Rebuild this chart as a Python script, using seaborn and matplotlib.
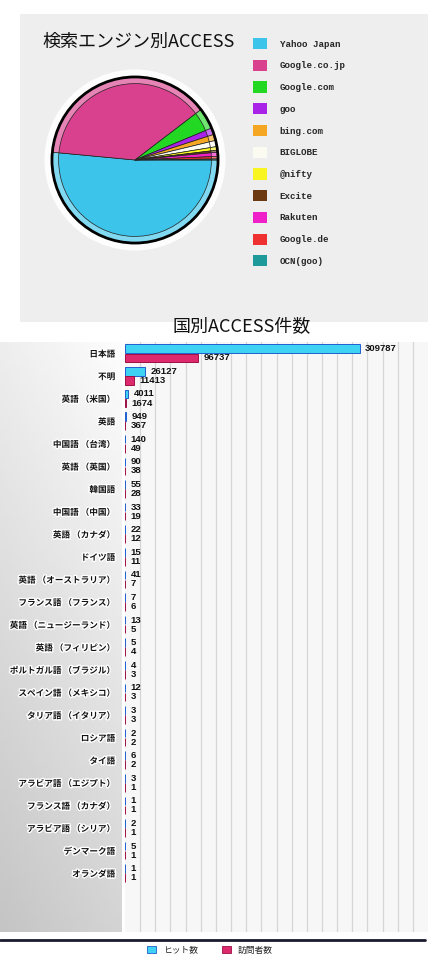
import matplotlib
matplotlib.use("Agg")
import matplotlib.pyplot as plt
import matplotlib.patheffects as pe
from matplotlib.patches import Patch, Rectangle, Circle
from matplotlib import colors as mcolors
import numpy as np
import pandas as pd
import seaborn as sns

# search engine shares (%)
engines = ["Yahoo Japan", "Google.co.jp", "Google.com", "goo", "bing.com", "BIGLOBE",
           "@nifty", "Excite", "Rakuten", "Google.de", "OCN(goo)"]
engine_share = [51.6, 38.2, 4.1, 1.3, 1.2, 1.2, 0.7, 0.4, 0.8, 0.5, 0.2]
engine_colors = ["#3cc4ea", "#d9418f", "#22d822", "#a822e8", "#f5a623", "#fbfbf2",
                 "#f8f520", "#6b3a12", "#f020c8", "#ee3030", "#1f9a9a"]

# access counts per language / country
languages = ["日本語", "不明", "英語 （米国）", "英語", "中国語 （台湾）", "英語 （英国）", "韓国語",
             "中国語 （中国）", "英語 （カナダ）", "ドイツ語", "英語 （オーストラリア）",
             "フランス語 （フランス）", "英語 （ニュージーランド）", "英語 （フィリピン）",
             "ポルトガル語 （ブラジル）", "スペイン語 （メキシコ）", "タリア語 （イタリア）",
             "ロシア語", "タイ語", "アラビア語 （エジプト）", "フランス語 （カナダ）",
             "アラビア語 （シリア）", "デンマーク語", "オランダ語"]
hits = [309787, 26127, 4011, 949, 140, 90, 55, 33, 22, 15, 41, 7, 13, 5, 4, 12, 3, 2, 6, 3, 1, 2, 5, 1]
visitors = [96737, 11413, 1674, 367, 49, 38, 28, 19, 12, 11, 7, 6, 5, 4, 3, 3, 3, 2, 2, 1, 1, 1, 1, 1]
series = ["ヒット数", "訪問者数"]
bar_colors = ["#3fd2f2", "#dc2a6c"]
bar_edges = ["#1f5fd0", "#9e1045"]

sns.set_theme(style="white")
plt.rcParams['font.family'] = ['Noto Sans CJK JP', 'DejaVu Sans']

W, H = 430, 957
fig = plt.figure(figsize=(W / 100, H / 100), dpi=100)
fig.patch.set_facecolor("white")


def fx(px):
    return px / W


def fy(py):
    return 1 - py / H


# ---- top panel: pie ----
fig.patches.append(Rectangle((fx(20), fy(322)), fx(408), 308 / H, transform=fig.transFigure,
                             facecolor="#eeeeee", edgecolor="none", zorder=-5))
fig.text(fx(42), fy(42), "検索エンジン別ACCESS", fontsize=13, va="center", ha="left", color="#111111")

R = 95.5
ax_pie = fig.add_axes([fx(135 - R), fy(160 + R), 2 * R / W, 2 * R / H])
ax_pie.set_facecolor("none")


def lighten(c, amt=0.35):
    rgb = np.array(mcolors.to_rgb(c))
    return tuple(rgb + (1 - rgb) * amt)


ax_pie.add_patch(Circle((0, 0), 1.09, facecolor="white", edgecolor="none", alpha=0.9, zorder=0))
ax_pie.pie(engine_share, colors=[lighten(c) for c in engine_colors], startangle=0, counterclock=False,
           radius=1.0, wedgeprops=dict(edgecolor="#222222", linewidth=0.5))
ax_pie.pie(engine_share, colors=engine_colors, startangle=0, counterclock=False,
           radius=0.92, wedgeprops=dict(edgecolor="#222222", linewidth=0.5))
ax_pie.add_patch(Circle((0, 0), 1.0, fill=False, edgecolor="black", linewidth=2.0, zorder=5))
ax_pie.set_xlim(-1.15, 1.15)
ax_pie.set_ylim(-1.15, 1.15)
ax_pie.set_aspect("equal")
ax_pie.axis("off")

pie_handles = [Patch(facecolor=c, edgecolor="none") for c in engine_colors]
fig.legend(pie_handles, engines, loc="upper left", bbox_to_anchor=(fx(253), fy(38)),
           frameon=False, borderpad=0, borderaxespad=0, handlelength=1.5, handleheight=1.5,
           handletextpad=1.4, labelspacing=1.15,
           prop=dict(family="Liberation Mono", weight="bold", size=6.6))

# ---- bottom panel: bars ----
fig.text(fx(242), fy(327), "国別ACCESS件数", fontsize=13, ha="center", va="center", color="#111111")

# left gradient panel behind the category labels
ax_bg = fig.add_axes([0, fy(932), fx(122), (932 - 342) / H])
grad = np.linspace(0.96, 0.80, 100)[:, None] * np.ones((1, 50))
grad = grad + np.linspace(-0.03, 0.03, 50)[None, :]
ax_bg.imshow(grad, cmap="gray", vmin=0, vmax=1, aspect="auto", extent=(0, 1, 0, 1))
ax_bg.axis("off")

ax = fig.add_axes([fx(125), fy(932), fx(303), (932 - 342) / H])
df = pd.DataFrame({
    "言語": languages * 2,
    "件数": hits + visitors,
    "系列": [series[0]] * len(languages) + [series[1]] * len(languages),
})
sns.barplot(data=df, y="言語", x="件数", hue="系列", orient="h", palette=bar_colors,
            width=0.8, gap=0.05, legend=False, ax=ax, saturation=1)
for cont, ec in zip(ax.containers, bar_edges):
    for b in cont:
        b.set_edgecolor(ec)
        b.set_linewidth(0.7)
    ax.bar_label(cont, labels=[str(int(v)) for v in cont.datavalues], padding=4,
                 fontsize=6.8, fontweight="bold", family="Liberation Sans", color="#111111")

ax.set_xlim(0, 400000)
ax.set_ylim(25.6, -0.5)
ax.set_facecolor("#f7f7f7")
ax.set_xticks(np.arange(20000, 400000, 20000))
ax.xaxis.grid(True, color="#d6d6d6", linewidth=0.9)
ax.set_axisbelow(True)
ax.tick_params(axis="x", bottom=False, labelbottom=False)
ax.tick_params(axis="y", left=False, pad=1, labelsize=6.2)
for lab in ax.get_yticklabels():
    lab.set_fontweight("bold")
    lab.set_color("#111111")
    lab.set_path_effects([pe.withStroke(linewidth=2, foreground="white")])
ax.set_xlabel("")
ax.set_ylabel("")
for s in ax.spines.values():
    s.set_visible(False)

# divider line and series legend
fig.add_artist(plt.Line2D([0, fx(425)], [fy(940), fy(940)], transform=fig.transFigure,
                          color="#1a1a30", linewidth=2))
bar_handles = [Patch(facecolor=c, edgecolor=e, linewidth=0.6) for c, e in zip(bar_colors, bar_edges)]
fig.legend(bar_handles, series, loc="center", bbox_to_anchor=(fx(210), fy(950)), ncol=2,
           frameon=False, fontsize=6.3, handlelength=1.0, handleheight=1.0, columnspacing=2.8,
           handletextpad=0.8, borderpad=0)

fig.savefig("out.png", dpi=100)
